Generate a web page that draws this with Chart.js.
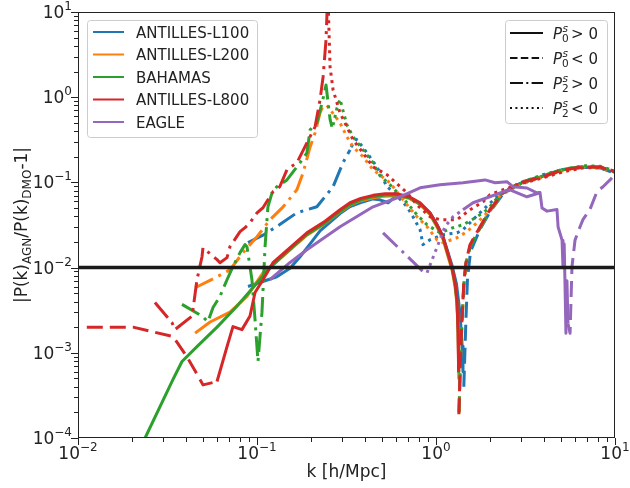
<!DOCTYPE html>
<html>
<head>
<meta charset="utf-8">
<script src="https://cdn.jsdelivr.net/npm/chart.js@4.4.1/dist/chart.umd.min.js"></script>
<style>
  html, body { margin: 0; padding: 0; background: #fff; }
  #wrap { width: 630px; height: 488px; }
</style>
</head>
<body>
<div id="wrap"><canvas id="chart" width="630" height="488"></canvas></div>
<script>
// Simulations, in plotting order (later ones drawn on top)
const SIMS = ['ANTILLES-L100', 'ANTILLES-L200', 'BAHAMAS', 'ANTILLES-L800', 'EAGLE'];
const SIM_COLORS = ['#1f77b4', '#ff7f0e', '#2ca02c', '#d62728', '#9467bd'];

// sign legend: multipole index + relation
const SIGN_ENTRIES = [['0', '>'], ['0', '<'], ['2', '>'], ['2', '<']];

const X_DECADES = [-2, -1, 0, 1];
const Y_DECADES = [-4, -3, -2, -1, 0, 1];
const THRESHOLD = 0.01;

// [k, |ratio|] pairs
// ANTILLES-L100
const l100P0pos = [[0.0891,0.006],[0.129,0.0078],[0.153,0.0098],[0.174,0.0134],[0.198,0.019],[0.225,0.027],[0.291,0.043],[0.331,0.052],[0.38,0.058],[0.445,0.064],[0.486,0.0625],[0.54,0.0577],[0.59,0.0678],[0.71,0.066],[0.815,0.056],[0.925,0.044],[1.013,0.032],[1.094,0.023],[1.15,0.0165],[1.23,0.0105],[1.3,0.0065],[1.36,0.003],[1.4,0.0012],[1.415,0.0006]];
const l100P0neg = [[1.43,0.0004],[1.47,0.0025],[1.5,0.0075],[1.56,0.0155],[1.76,0.028],[2.0,0.045],[2.37,0.073],[2.94,0.097],[3.96,0.118],[5.12,0.142],[6.62,0.15],[8.24,0.148],[10,0.128]];
const l100P2pos = [[0.0891,0.0196],[0.108,0.024],[0.134,0.032],[0.167,0.044],[0.216,0.0517],[0.266,0.089],[0.302,0.17],[0.331,0.241]];
const l100P2neg = [[0.335,0.26],[0.36,0.32],[0.39,0.26],[0.468,0.152],[0.532,0.089],[0.575,0.0776],[0.689,0.0517],[0.744,0.0395],[0.815,0.0278],[0.846,0.0186],[0.925,0.0212],[1.094,0.0243],[1.31,0.0256],[1.415,0.0278],[1.61,0.0365],[1.832,0.0477],[2.28,0.0735],[2.94,0.099],[3.96,0.123],[5.12,0.141],[6.62,0.152],[8.24,0.148],[10,0.13]];

// ANTILLES-L200
const l200P0pos = [[0.0451,0.0017],[0.0547,0.0023],[0.0706,0.003],[0.0879,0.0046],[0.108,0.0087],[0.1228,0.0108],[0.153,0.0162],[0.19,0.024],[0.24,0.033],[0.291,0.045],[0.331,0.054],[0.38,0.061],[0.445,0.066],[0.52,0.069],[0.6,0.0695],[0.71,0.065],[0.815,0.055],[0.925,0.042],[1.013,0.03],[1.094,0.0215],[1.15,0.015],[1.23,0.0093],[1.277,0.006],[1.31,0.0037],[1.33,0.0017],[1.34,0.0005]];
const l200P0neg = [[1.345,0.0002],[1.37,0.0008],[1.397,0.0023],[1.43,0.006],[1.47,0.011],[1.55,0.018],[1.76,0.029],[2.0,0.046],[2.37,0.074],[2.94,0.098],[3.96,0.117],[5.12,0.14],[6.62,0.151],[8.24,0.15],[10,0.131]];
const l200P2pos = [[0.0451,0.0058],[0.0598,0.0078],[0.0706,0.0094],[0.0835,0.015],[0.1,0.023],[0.1182,0.0365],[0.14,0.0517],[0.167,0.0819],[0.181,0.13],[0.198,0.261],[0.211,0.381],[0.225,0.654],[0.237,0.857]];
const l200P2neg = [[0.246,0.8],[0.291,0.5],[0.318,0.343],[0.344,0.261],[0.391,0.2],[0.445,0.141],[0.553,0.099],[0.689,0.0546],[0.783,0.0395],[0.891,0.0302],[1.013,0.0212],[1.094,0.0196],[1.31,0.0224],[1.49,0.0264],[1.695,0.0336],[1.928,0.044],[2.28,0.07],[2.94,0.094],[3.96,0.116],[5.12,0.137],[6.62,0.152],[8.24,0.152],[10,0.133]];

// BAHAMAS
const bahP0pos = [[0.0237,0.0001],[0.034,0.00049],[0.0381,0.00079],[0.0462,0.00118],[0.0598,0.002],[0.077,0.0035],[0.1,0.0066],[0.118,0.01],[0.153,0.0165],[0.19,0.0245],[0.24,0.0335],[0.291,0.0455],[0.331,0.055],[0.38,0.0625],[0.445,0.068],[0.52,0.071],[0.6,0.071],[0.71,0.066],[0.815,0.056],[0.925,0.043],[1.013,0.031],[1.094,0.0225],[1.15,0.0158],[1.23,0.0098],[1.277,0.0065],[1.31,0.004],[1.33,0.0018],[1.34,0.0006]];
const bahP0neg = [[1.345,0.0002],[1.37,0.0009],[1.4,0.0025],[1.43,0.0063],[1.47,0.0112],[1.56,0.018],[1.76,0.029],[2.0,0.047],[2.37,0.075],[2.94,0.1],[3.96,0.12],[5.12,0.143],[6.62,0.153],[8.24,0.152],[10,0.132]];
const bahP2pos = [[0.0381,0.0037],[0.0493,0.0027],[0.0532,0.00232],[0.0568,0.0034],[0.0621,0.0046],[0.068,0.0072],[0.0734,0.0103],[0.0804,0.015],[0.0857,0.0186],[0.0879,0.0176],[0.0937,0.0072],[0.0975,0.00245],[0.1013,0.00079],[0.1066,0.003],[0.1109,0.0176],[0.1151,0.0517],[0.1213,0.0755],[0.129,0.089],[0.147,0.107],[0.174,0.17],[0.19,0.222],[0.198,0.414],[0.216,0.5],[0.231,0.857],[0.243,1.39],[0.256,0.55],[0.262,0.45]];
const bahP2neg = [[0.266,0.47],[0.28,0.75],[0.291,0.95],[0.302,0.7],[0.318,0.473],[0.344,0.343],[0.391,0.241],[0.445,0.17],[0.486,0.12],[0.54,0.099],[0.689,0.0577],[0.783,0.0417],[0.891,0.0318],[1.052,0.0256],[1.245,0.0294],[1.415,0.0318],[1.695,0.0395],[1.928,0.0477],[2.28,0.0716],[2.94,0.096],[3.96,0.119],[5.12,0.141],[6.62,0.157],[8.24,0.155],[10,0.136]];

// ANTILLES-L800
const l800P0negLow = [[0.0112,0.002],[0.0203,0.002],[0.034,0.00155],[0.0406,0.0009],[0.05,0.00042],[0.0598,0.00046]];
const l800P0pos = [[0.0598,0.00046],[0.068,0.00118],[0.0734,0.00203],[0.0824,0.00187],[0.0914,0.0027],[0.0975,0.0051],[0.108,0.0072],[0.1228,0.0114],[0.153,0.0171],[0.19,0.0256],[0.24,0.035],[0.291,0.0477],[0.331,0.0577],[0.38,0.065],[0.445,0.0705],[0.52,0.0735],[0.6,0.0735],[0.71,0.0678],[0.815,0.0577],[0.925,0.044],[1.013,0.0318],[1.094,0.023],[1.15,0.0162],[1.23,0.01],[1.277,0.0067],[1.31,0.0042],[1.327,0.00187],[1.338,0.0006]];
const l800P0neg = [[1.342,0.00019],[1.37,0.0009],[1.397,0.0025],[1.43,0.0066],[1.47,0.0115],[1.549,0.0186],[1.762,0.0302],[2.0,0.0477],[2.37,0.0755],[2.94,0.099],[3.96,0.116],[5.12,0.141],[6.62,0.152],[8.24,0.152],[10,0.133]];
const l800P2pos = [[0.0269,0.0039],[0.0335,0.00226],[0.0348,0.00187],[0.0434,0.0027],[0.0462,0.0072],[0.0493,0.0134],[0.0499,0.0171],[0.0598,0.0124],[0.0621,0.0114],[0.068,0.0131],[0.0706,0.0176],[0.0804,0.0264],[0.0857,0.0294],[0.0914,0.0336],[0.1,0.044],[0.108,0.0504],[0.1151,0.0625],[0.1228,0.0776],[0.134,0.089],[0.147,0.141],[0.167,0.17],[0.19,0.291],[0.211,0.449],[0.225,0.93],[0.234,1.73],[0.243,4.7],[0.247,12]];
const l800P2neg = [[0.25,12],[0.256,2.26],[0.266,1.22],[0.291,0.654],[0.318,0.449],[0.344,0.316],[0.391,0.222],[0.445,0.152],[0.532,0.123],[0.689,0.0755],[0.783,0.0546],[0.925,0.0395],[1.052,0.0365],[1.31,0.0365],[1.549,0.0477],[1.832,0.0592],[2.0,0.0716],[2.37,0.082],[2.94,0.096],[3.96,0.113],[5.12,0.133],[6.62,0.148],[8.24,0.15],[10,0.136]];

// EAGLE
const eagleP0pos = [[0.118,0.0072],[0.153,0.0115],[0.19,0.0162],[0.291,0.0302],[0.445,0.0517],[0.629,0.0678],[0.815,0.0865],[1.052,0.094],[1.415,0.099],[1.879,0.107],[2.14,0.099],[2.49,0.102],[2.69,0.089],[3.22,0.086],[3.66,0.0755],[3.81,0.076],[3.91,0.05],[4.17,0.046],[4.74,0.048],[4.81,0.03],[5.06,0.021],[5.12,0.0103],[5.2,0.019],[5.26,0.006],[5.32,0.0017],[5.39,0.007],[5.46,0.0022]];
const eagleP0neg = [[5.46,0.0022],[5.61,0.0017],[5.75,0.0103],[5.98,0.021],[6.37,0.03],[6.62,0.0365],[7.24,0.048],[7.93,0.078],[8.57,0.089],[9.38,0.107],[10,0.125]];
const eagleP2pos = [[0.506,0.0256],[0.846,0.009]];
const eagleP2neg = [[0.891,0.0087],[1.052,0.0212],[1.122,0.0302],[1.245,0.0395],[1.415,0.0477]];
const eagleP2negNoisy = [[1.415,0.0477],[1.61,0.0577],[1.928,0.066],[2.37,0.0776],[2.59,0.0819],[3.22,0.0678],[3.81,0.0755]];

const DASH = { solid: [], dashed: [16, 7], dashdot: [20, 6, 3, 6], dotted: [3, 4.5] };
const LEGEND_DASH = { solid: [], dashed: [7.5, 3.3], dashdot: [13, 3.3, 2, 3.3], dotted: [2, 3.4] };
const SIGN_STYLES = ['solid', 'dashed', 'dashdot', 'dotted'];

const segments = [
  [0, 'solid', l100P0pos], [0, 'dashed', l100P0neg], [0, 'dashdot', l100P2pos], [0, 'dotted', l100P2neg],
  [1, 'solid', l200P0pos], [1, 'dashed', l200P0neg], [1, 'dashdot', l200P2pos], [1, 'dotted', l200P2neg],
  [2, 'solid', bahP0pos], [2, 'dashed', bahP0neg], [2, 'dashdot', bahP2pos], [2, 'dotted', bahP2neg],
  [3, 'dashed', l800P0negLow], [3, 'solid', l800P0pos], [3, 'dashed', l800P0neg], [3, 'dashdot', l800P2pos], [3, 'dotted', l800P2neg],
  [4, 'solid', eagleP0pos], [4, 'dashed', eagleP0neg], [4, 'dashdot', eagleP2pos], [4, 'dotted', eagleP2neg], [4, 'solid', eagleP2negNoisy]
];

const datasets = segments.map(([sim, style, pts]) => ({
  label: SIMS[sim] + ' ' + style,
  data: pts.map(([x, y]) => ({ x, y })),
  borderColor: SIM_COLORS[sim],
  borderWidth: 3,
  borderDash: DASH[style],
  borderCapStyle: 'butt',
  borderJoinStyle: 'round',
  pointRadius: 0,
  tension: 0,
  fill: false,
  clip: 0
}));
datasets.push({
  label: 'threshold',
  data: [{ x: 0.01, y: THRESHOLD }, { x: 10, y: THRESHOLD }],
  borderColor: '#1a1a1a',
  borderWidth: 3.5,
  pointRadius: 0,
  fill: false,
  clip: 0
});
// Chart.js paints dataset 0 last; invert so later series sit on top
datasets.forEach((d, i) => { d.order = datasets.length - i; });

const FONT = "'DejaVu Sans', 'Liberation Sans', sans-serif";
const TEXT = '#222';

function drawParts(ctx, parts, x, y) {
  let cx = x;
  for (const p of parts) {
    ctx.font = (p.italic ? 'italic ' : '') + p.size + 'px ' + FONT;
    ctx.fillText(p.t, cx, y + (p.dy || 0));
    cx += ctx.measureText(p.t).width;
  }
  return cx;
}
function partsWidth(ctx, parts) {
  let w = 0;
  for (const p of parts) {
    ctx.font = (p.italic ? 'italic ' : '') + p.size + 'px ' + FONT;
    w += ctx.measureText(p.t).width;
  }
  return w;
}
function powParts(e) {
  return [{ t: '10', size: 17 }, { t: (e < 0 ? '\u2212' : '') + Math.abs(e), size: 12, dy: -8 }];
}
function boxPath(ctx, x, y, w, h, r) {
  ctx.beginPath();
  ctx.moveTo(x + r, y);
  ctx.arcTo(x + w, y, x + w, y + h, r);
  ctx.arcTo(x + w, y + h, x, y + h, r);
  ctx.arcTo(x, y + h, x, y, r);
  ctx.arcTo(x, y, x + w, y, r);
  ctx.closePath();
}

const decorations = {
  id: 'decorations',
  afterDatasetsDraw(chart) {
    const ctx = chart.ctx, a = chart.chartArea;
    const xs = chart.scales.x, ys = chart.scales.y;
    ctx.save();
    // frame
    ctx.strokeStyle = '#222';
    ctx.lineWidth = 1;
    ctx.setLineDash([]);
    ctx.strokeRect(a.left + 0.5, a.top + 0.5, a.right - a.left - 1, a.bottom - a.top - 1);

    // ticks
    ctx.beginPath();
    X_DECADES.forEach((d) => {
      for (let m = 1; m <= 9; m++) {
        const v = m * Math.pow(10, d);
        if (v > 10.0001) continue;
        const px = Math.round(xs.getPixelForValue(v)) + 0.5;
        const len = m === 1 ? 7 : 4;
        ctx.moveTo(px, a.bottom);
        ctx.lineTo(px, a.bottom + len);
      }
    });
    Y_DECADES.forEach((d) => {
      for (let m = 1; m <= 9; m++) {
        const v = m * Math.pow(10, d);
        if (v > 10.0001) continue;
        const py = Math.round(ys.getPixelForValue(v)) + 0.5;
        const len = m === 1 ? 7 : 4;
        ctx.moveTo(a.left, py);
        ctx.lineTo(a.left - len, py);
      }
    });
    ctx.stroke();

    // tick labels
    ctx.fillStyle = TEXT;
    ctx.textBaseline = 'alphabetic';
    ctx.textAlign = 'left';
    X_DECADES.forEach((d) => {
      const parts = powParts(d);
      const w = partsWidth(ctx, parts);
      const px = xs.getPixelForValue(Math.pow(10, d));
      drawParts(ctx, parts, px - w / 2, 459);
    });
    Y_DECADES.forEach((d) => {
      const parts = powParts(d);
      const w = partsWidth(ctx, parts);
      const py = ys.getPixelForValue(Math.pow(10, d));
      drawParts(ctx, parts, 72 - w, py + 6);
    });

    // axis titles
    ctx.font = '17px ' + FONT;
    ctx.textAlign = 'center';
    ctx.fillText('k [h/Mpc]', (a.left + a.right) / 2, 477);
    ctx.textAlign = 'left';
    const ylab = [
      { t: '|P(k)', size: 17 }, { t: 'AGN', size: 12, dy: 4 },
      { t: '/P(k)', size: 17 }, { t: 'DMO', size: 12, dy: 4 }, { t: '-1|', size: 17 }
    ];
    ctx.save();
    ctx.translate(27, (a.top + a.bottom) / 2);
    ctx.rotate(-Math.PI / 2);
    drawParts(ctx, ylab, -partsWidth(ctx, ylab) / 2, 0);
    ctx.restore();

    // simulation legend
    boxPath(ctx, 87.5, 20.5, 170, 117, 3);
    ctx.fillStyle = 'rgba(255,255,255,0.8)';
    ctx.fill();
    ctx.strokeStyle = '#cccccc';
    ctx.stroke();
    SIMS.forEach((name, i) => {
      const yRow = 32 + i * 22.5;
      ctx.strokeStyle = SIM_COLORS[i];
      ctx.lineWidth = 2;
      ctx.beginPath();
      ctx.moveTo(93, yRow);
      ctx.lineTo(124, yRow);
      ctx.stroke();
      ctx.fillStyle = TEXT;
      ctx.font = '15px ' + FONT;
      ctx.fillText(name, 136, yRow + 5.5);
    });

    // sign legend
    ctx.lineWidth = 1;
    boxPath(ctx, 505.5, 20.5, 102, 103, 3);
    ctx.fillStyle = 'rgba(255,255,255,0.8)';
    ctx.fill();
    ctx.strokeStyle = '#cccccc';
    ctx.stroke();
    SIGN_ENTRIES.forEach(([ell, rel], i) => {
      const yRow = 33 + i * 25;
      ctx.strokeStyle = '#111';
      ctx.lineWidth = 2;
      ctx.setLineDash(LEGEND_DASH[SIGN_STYLES[i]]);
      ctx.beginPath();
      ctx.moveTo(510, yRow);
      ctx.lineTo(543, yRow);
      ctx.stroke();
      ctx.setLineDash([]);
      ctx.fillStyle = TEXT;
      const x0 = drawParts(ctx, [{ t: 'P', size: 15, italic: true }], 553, yRow + 5.5);
      ctx.font = 'italic 10.5px ' + FONT;
      ctx.fillText('s', x0 + 0.5, yRow - 1);
      ctx.font = '10.5px ' + FONT;
      ctx.fillText(ell, x0, yRow + 9);
      ctx.font = '15px ' + FONT;
      ctx.fillText(rel + ' 0', x0 + 9, yRow + 5.5);
    });
    ctx.restore();
  }
};

new Chart(document.getElementById('chart').getContext('2d'), {
  type: 'line',
  data: { datasets },
  options: {
    responsive: false,
    animation: false,
    events: [],
    parsing: true,
    layout: { padding: { left: 78, top: 12, right: 15, bottom: 50 } },
    plugins: { legend: { display: false }, tooltip: { enabled: false } },
    scales: {
      x: { type: 'logarithmic', min: 0.01, max: 10, display: false },
      y: { type: 'logarithmic', min: 0.0001, max: 10, display: false }
    }
  },
  plugins: [decorations]
});
</script>
</body>
</html>
